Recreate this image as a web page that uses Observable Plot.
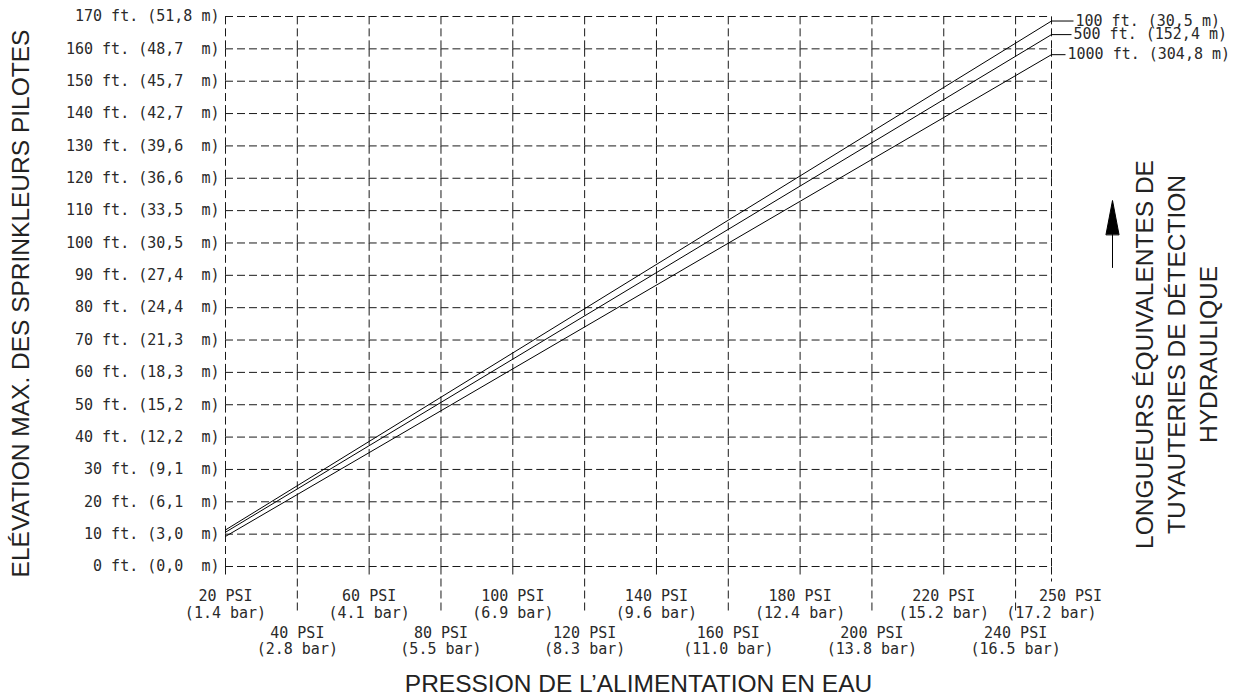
<!DOCTYPE html>
<html>
<head>
<meta charset="utf-8">
<script src="https://cdn.jsdelivr.net/npm/d3@7"></script>
<script src="https://cdn.jsdelivr.net/npm/@observablehq/plot@0.6"></script>
<style>
  html, body { margin: 0; padding: 0; background: #fff; }
  #chart svg { display: block; }
</style>
</head>
<body>
<div id="chart"></div>
<script>
// ---- Data ----
const psiTicks = [20, 40, 60, 80, 100, 120, 140, 160, 180, 200, 220, 240, 250];
const barLabels = ["1.4", "2.8", "4.1", "5.5", "6.9", "8.3", "9.6", "11.0", "12.4", "13.8", "15.2", "16.5", "17.2"];
const ftTicks = [0, 10, 20, 30, 40, 50, 60, 70, 80, 90, 100, 110, 120, 130, 140, 150, 160, 170];
const meterLabels = ["0,0", "3,0", "6,1", "9,1", "12,2", "15,2", "18,3", "21,3", "24,4", "27,4", "30,5", "33,5", "36,6", "39,6", "42,7", "45,7", "48,7", "51,8"];

const seriesNames = ["100 ft. (30,5 m)", "500 ft. (152,4 m)", "1000 ft. (304,8 m)"];
const seriesPsi = [20, 250];
const series100 = [11.3, 168.6];
const series500 = [10.6, 164.4];
const series1000 = [9.3, 158.2];

const xTitle = "PRESSION DE L’ALIMENTATION EN EAU";
const yTitle = "ELÉVATION MAX. DES SPRINKLEURS PILOTES";
const rightTitle = ["LONGUEURS ÉQUIVALENTES DE", "TUYAUTERIES DE DÉTECTION", "HYDRAULIQUE"];

// ---- Derived tables ----
const seriesValues = [series100, series500, series1000];
const rows = seriesNames.flatMap((name, i) =>
  seriesPsi.map((psi, j) => ({name, psi, ft: seriesValues[i][j]})));
const ends = rows.filter(d => d.psi === seriesPsi[seriesPsi.length - 1]);

const hSegs = ftTicks.flatMap(ft => psiTicks.slice(0, -1).map((p, i) => ({ft, x1: p, x2: psiTicks[i + 1]})));
const vSegs = psiTicks.flatMap(psi => ftTicks.slice(0, -1).map((f, i) => ({psi, y1: f, y2: ftTicks[i + 1]})));

const xLabels = psiTicks.map((psi, i) => ({psi, psiText: `${psi} PSI`, barText: `(${barLabels[i]} bar)`, row: (i === psiTicks.length - 1) ? 0 : i % 2}));
const row1 = xLabels.filter((d, i) => d.row === 0 && i !== psiTicks.length - 1);
const row2 = xLabels.filter(d => d.row === 1);
const last = xLabels.slice(-1);

const yLabels = ftTicks.map((ft, i) => ({ft, text: ft === 170 ? `${ft} ft. (${meterLabels[i]} m)` : `${ft} ft. (${meterLabels[i]}\u00a0\u00a0m)`}));

// ---- Style ----
const mono = "DejaVu Sans Mono, monospace";
const sans = "Liberation Sans, Arial, Helvetica, sans-serif";
const gridColor = "#1a1a1a";
const dash = "8,4";
const lineShape = {draw(ctx, l) { ctx.moveTo(0, 0); ctx.lineTo(0, -l); }};
const arrowShape = {draw(ctx, l) {
  const head = 34, hw = 6.5;
  ctx.moveTo(0, 0); ctx.lineTo(0, -l + head);
  ctx.moveTo(-hw, -l + head); ctx.lineTo(0, -l); ctx.lineTo(hw, -l + head); ctx.closePath();
}};
const leaderLen = [22, 20, 14];

const monoText = {fontFamily: mono, fontSize: 15, fill: "#2a2a2a"};
const titleText = {fontFamily: sans, fontSize: 24.5, fill: "#222", textAnchor: "middle", lineAnchor: "middle"};

const plot = Plot.plot({
  width: 1243,
  height: 697,
  marginLeft: 225,
  marginRight: 192,
  marginTop: 16,
  marginBottom: 131,
  x: {domain: [20, 250], axis: null},
  y: {domain: [0, 170], axis: null},
  style: {background: "#fff", overflow: "visible"},
  marks: [
    // dashed grid
    Plot.ruleY(hSegs, {y: "ft", x1: "x1", x2: "x2", stroke: gridColor, strokeDasharray: dash}),
    Plot.ruleX(vSegs, {x: "psi", y1: "y1", y2: "y2", stroke: gridColor, strokeDasharray: dash}),
    // tick extensions below the grid
    Plot.vector(row1, {x: "psi", frameAnchor: "bottom", length: 12, rotate: 180, anchor: "start", shape: lineShape, stroke: gridColor, strokeWidth: 1, strokeLinecap: "butt", strokeDasharray: dash}),
    Plot.vector(row2, {x: "psi", frameAnchor: "bottom", length: 48, rotate: 180, anchor: "start", shape: lineShape, stroke: gridColor, strokeWidth: 1, strokeLinecap: "butt", strokeDasharray: dash}),
    Plot.vector(last, {x: "psi", frameAnchor: "bottom", length: 15, rotate: 180, anchor: "start", shape: lineShape, stroke: gridColor, strokeWidth: 1, strokeLinecap: "butt", strokeDasharray: dash}),
    // series lines
    Plot.line(rows, {x: "psi", y: "ft", z: "name", stroke: "#000", strokeWidth: 1}),
    // leaders + labels
    ...ends.flatMap((d, i) => [
      Plot.vector([d], {x: "psi", y: "ft", length: leaderLen[i], rotate: 90, anchor: "start", shape: lineShape, stroke: "#000", strokeWidth: 1, strokeLinecap: "butt"}),
      Plot.text([d], {x: "psi", y: "ft", text: "name", dx: leaderLen[i] + 2, textAnchor: "start", lineAnchor: "middle", ...monoText})
    ]),
    // y tick labels
    Plot.text(yLabels, {y: "ft", text: "text", frameAnchor: "left", dx: -6, textAnchor: "end", lineAnchor: "middle", ...monoText}),
    // x tick labels
    Plot.text(row1, {x: "psi", text: "psiText", frameAnchor: "bottom", dy: 30, lineAnchor: "middle", ...monoText}),
    Plot.text(row1, {x: "psi", text: "barText", frameAnchor: "bottom", dy: 47, lineAnchor: "middle", ...monoText}),
    Plot.text(row2, {x: "psi", text: "psiText", frameAnchor: "bottom", dy: 67, lineAnchor: "middle", ...monoText}),
    Plot.text(row2, {x: "psi", text: "barText", frameAnchor: "bottom", dy: 83, lineAnchor: "middle", ...monoText}),
    Plot.text(last, {x: "psi", text: "psiText", frameAnchor: "bottom", dx: 19, dy: 30, lineAnchor: "middle", ...monoText}),
    Plot.text(last, {x: "psi", text: "barText", frameAnchor: "bottom", dy: 47, lineAnchor: "middle", ...monoText}),
    // titles
    Plot.text([xTitle], {text: d => d, frameAnchor: "bottom", dy: 117.5, ...titleText}),
    Plot.text([yTitle], {text: d => d, frameAnchor: "left", dx: -204, dy: 12, rotate: -90, ...titleText}),
    Plot.text([rightTitle.join("\n")], {text: d => d, frameAnchor: "right", dx: 123, dy: 63, rotate: -90, lineHeight: 1.3, ...titleText}),
    // arrow
    Plot.vector([0], {frameAnchor: "right", dx: 61, dy: -24, length: 67, rotate: 0, anchor: "start", shape: arrowShape, fill: "#000", stroke: "#000", strokeWidth: 1})
  ]
});
document.getElementById("chart").append(plot);
</script>
</body>
</html>
